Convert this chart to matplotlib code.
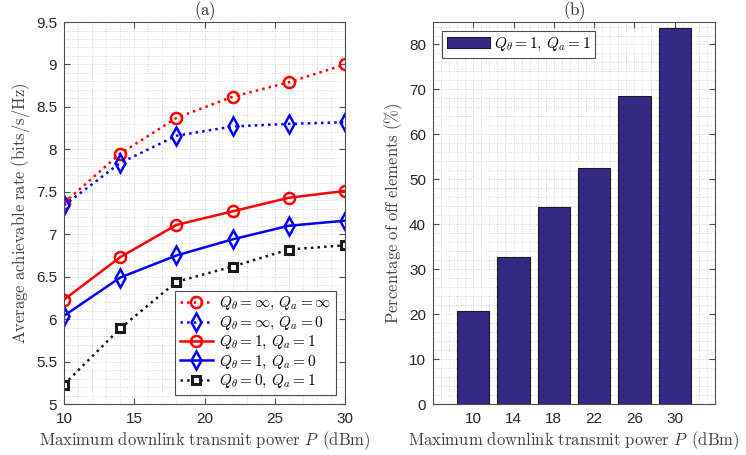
import matplotlib

matplotlib.use("Agg")
import matplotlib.pyplot as plt
from matplotlib.ticker import AutoMinorLocator, MultipleLocator, FormatStrFormatter

# --- data -------------------------------------------------------------------
power_dbm = [10, 14, 18, 22, 26, 30]
rate_inf_inf = [7.37, 7.95, 8.37, 8.62, 8.79, 9.00]
rate_inf_0 = [7.34, 7.84, 8.16, 8.27, 8.30, 8.32]
rate_1_1 = [6.23, 6.73, 7.11, 7.27, 7.43, 7.51]
rate_1_0 = [6.04, 6.49, 6.75, 6.94, 7.10, 7.16]
rate_0_1 = [5.23, 5.89, 6.44, 6.62, 6.82, 6.87]

bar_labels = ["10", "14", "18", "22", "26", "30"]
off_pct = [20.7, 32.7, 43.8, 52.5, 68.6, 83.6]

plt.rcParams["mathtext.fontset"] = "cm"
plt.rcParams["font.family"] = "Liberation Sans"

TXT = "#262626"
AX = "#4d4d4d"

fig = plt.figure(figsize=(7.46, 4.55), dpi=100)
ax1 = fig.add_axes([0.0858, 0.112, 0.3767, 0.8396])
ax2 = fig.add_axes([0.5804, 0.112, 0.378, 0.8396])

XLAB = r"$\mathrm{Maximum\ downlink\ transmit\ power}\ P\ \,\mathrm{(dBm)}$"


def style(ax):
    ax.tick_params(which="both", direction="in", top=True, right=True,
                   colors=AX, labelcolor=TXT, labelsize=11)
    ax.tick_params(which="minor", length=0)
    ax.tick_params(which="major", length=4)
    ax.tick_params(axis="x", pad=6)
    ax.tick_params(axis="y", pad=5)
    ax.grid(True, which="both", linestyle=(0, (1, 2)), color="#c8c8c8", linewidth=0.6)
    ax.set_axisbelow(True)
    for s in ax.spines.values():
        s.set_color(AX)
        s.set_linewidth(0.8)


# --- (a) rate vs power ------------------------------------------------------
lw = 1.8
ax1.plot(power_dbm, rate_inf_inf, ":", color="red", lw=lw, marker="o", ms=8,
         mfc="none", mew=1.8, label=r"$Q_\theta=\infty,\, Q_a=\infty$")
ax1.plot(power_dbm, rate_inf_0, ":", color="blue", lw=lw, marker="d", ms=9,
         mfc="none", mew=1.8, label=r"$Q_\theta=\infty,\, Q_a=0$")
ax1.plot(power_dbm, rate_1_1, "-", color="red", lw=lw, marker="o", ms=8,
         mfc="none", mew=1.8, label=r"$Q_\theta=1,\, Q_a=1$")
ax1.plot(power_dbm, rate_1_0, "-", color="blue", lw=lw, marker="d", ms=9,
         mfc="none", mew=1.8, label=r"$Q_\theta=1,\, Q_a=0$")
ax1.plot(power_dbm, rate_0_1, ":", color="#1a1a1a", lw=lw, marker="s", ms=6,
         mfc="white", mec="#1a1a1a", mew=2.2, label=r"$Q_\theta=0,\, Q_a=1$")

ax1.set_xlim(10, 30)
ax1.set_ylim(5, 9.5)
ax1.xaxis.set_major_locator(MultipleLocator(5))
ax1.xaxis.set_minor_locator(AutoMinorLocator(5))
ax1.yaxis.set_major_locator(MultipleLocator(0.5))
ax1.yaxis.set_minor_locator(AutoMinorLocator(5))
ax1.yaxis.set_major_formatter(FormatStrFormatter("%g"))
style(ax1)
ax1.set_title(r"$\mathrm{(a)}$", fontsize=12, color=TXT, pad=4)
ax1.set_xlabel(XLAB, fontsize=12, color="#404040", labelpad=2)
ax1.set_ylabel(r"$\mathrm{Average\ achievable\ rate\ (bits/s/Hz)}$",
               fontsize=12, color="#404040", labelpad=3)
leg = ax1.legend(loc="lower right", fontsize=11, handlelength=2.2,
                 borderpad=0.3, labelspacing=0.15, handletextpad=0.4,
                 fancybox=False, framealpha=1, edgecolor=AX, borderaxespad=0.6)
leg.get_frame().set_linewidth(0.8)

# --- (b) percentage of off elements -----------------------------------------
xpos = list(range(1, len(bar_labels) + 1))
ax2.bar(xpos, off_pct, width=0.8, color="#342A85", edgecolor="#1a1a1a",
        linewidth=0.8, label=r"$Q_\theta=1,\, Q_a=1$")
ax2.set_xlim(0, 7)
ax2.set_ylim(0, 85)
ax2.set_xticks(xpos)
ax2.set_xticklabels(bar_labels)
ax2.xaxis.set_minor_locator(AutoMinorLocator(5))
ax2.yaxis.set_major_locator(MultipleLocator(10))
ax2.yaxis.set_minor_locator(AutoMinorLocator(5))
style(ax2)
ax2.set_title(r"$\mathrm{(b)}$", fontsize=12, color=TXT, pad=4)
ax2.set_xlabel(XLAB, fontsize=12, color="#404040", labelpad=2)
ax2.set_ylabel(r"$\mathrm{Percentage\ of\ off\ elements\ (\%)}$",
               fontsize=12, color="#404040", labelpad=3)
leg2 = ax2.legend(loc="upper left", fontsize=11, handlelength=2.8,
                  borderpad=0.3, handletextpad=0.3, fancybox=False,
                  framealpha=1, edgecolor=AX, borderaxespad=0.6)
leg2.get_frame().set_linewidth(0.8)

fig.savefig("out.png", dpi=100)
